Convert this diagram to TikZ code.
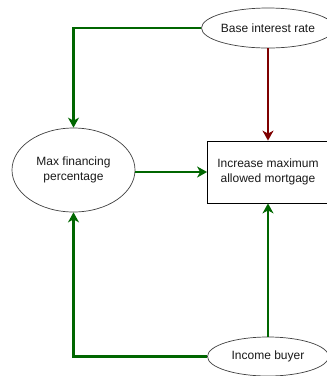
\documentclass[tikz,border=0pt]{standalone}
\usepackage{fontspec}
\setmainfont{Liberation Sans}
\usetikzlibrary{shapes.geometric,arrows.meta}
\definecolor{linkgreen}{HTML}{006600}
\definecolor{linkred}{HTML}{7F0000}
\begin{document}
\begin{tikzpicture}[x=1pt,y=-1pt,
  every node/.style={font=\fontsize{12}{15}\selectfont, text=black!90, align=center},
  factor/.style={ellipse, draw=black!75, line width=0.7pt, inner sep=0pt},
  outcome/.style={rectangle, draw=black, line width=0.8pt, inner sep=0pt},
  link/.style={line width=2.8pt, -{Stealth[length=10pt,width=11pt,inset=3pt]}},
  poslink/.style={link, draw=linkgreen},
  neglink/.style={link, draw=linkred}]
\useasboundingbox (0,0) rectangle (327,376);
\node[factor, minimum width=121pt, minimum height=40pt] (rate) at (268,28) {Base interest rate};
\node[factor, minimum width=123pt, minimum height=84pt] (fin) at (73.5,170) {Max financing\\percentage};
\node[outcome, minimum width=121pt, minimum height=62pt] (mort) at (268,172) {Increase maximum\\allowed mortgage};
\node[factor, minimum width=121pt, minimum height=39pt] (inc) at (268,356.5) {Income buyer};
\draw[poslink] (rate.west) -| (fin.north);
\draw[neglink] (rate.south) -- (mort.north);
\draw[poslink] (fin.east |- mort.west) -- (mort.west);
\draw[poslink] (inc.west) -| (fin.south);
\draw[poslink] (inc.north) -- (mort.south);
\end{tikzpicture}
\end{document}
